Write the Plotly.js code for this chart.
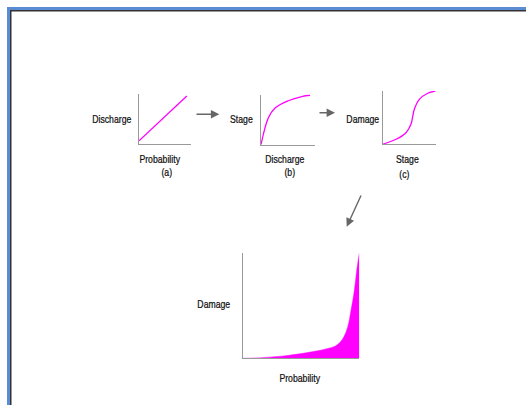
<!DOCTYPE html>
<html>
<head>
<meta charset="utf-8">
<script src="https://cdn.plot.ly/plotly-3.0.1.min.js"></script>
<style>html,body{margin:0;padding:0;background:#fff;}#chart{width:526px;height:405px;}</style>
</head>
<body>
<div id="chart"></div>
<script>
// ---- data (normalised 0..1 within each small panel) ----
var panelA_x = [0, 0.92];
var panelA_y = [0.07, 0.96];

var panelB_x = [0, 0.135, 0.26, 0.505, 0.754, 0.907];
var panelB_y = [0, 0.53, 0.73, 0.875, 0.96, 0.985];

var panelC_x = [0, 0.25, 0.437, 0.53, 0.593, 0.687, 0.844, 0.987];
var panelC_y = [0, 0.094, 0.218, 0.375, 0.657, 0.844, 0.957, 1.0];

var mainX = [0, 0.114, 0.371, 0.569, 0.714, 0.80, 0.857, 0.90, 0.928, 0.957, 0.977, 1.0];
var mainY = [0, 0.003, 0.025, 0.057, 0.089, 0.12, 0.184, 0.295, 0.45, 0.64, 0.83, 1.0];

var labelsA = ["Discharge", "Probability", "(a)"];
var labelsB = ["Stage", "Discharge", "(b)"];
var labelsC = ["Damage", "Stage", "(c)"];
var labelsMain = ["Damage", "Probability"];

// ---- layout helpers (pixel -> paper) ----
var W = 526, H = 405;
function px(x){ return x / W; }
function py(y){ return 1 - y / H; }

var magenta = '#ff00ff';
var axisGray = '#999999';
var FONT = {family: '"Liberation Sans", Arial, sans-serif', size: 11, color: '#111'};

var traces = [
  {x: panelA_x, y: panelA_y, xaxis: 'x', yaxis: 'y', mode: 'lines',
   line: {color: magenta, width: 1.3}},
  {x: panelB_x, y: panelB_y, xaxis: 'x2', yaxis: 'y2', mode: 'lines',
   line: {color: magenta, width: 1.3, shape: 'spline'}},
  {x: panelC_x, y: panelC_y, xaxis: 'x3', yaxis: 'y3', mode: 'lines',
   line: {color: magenta, width: 1.3, shape: 'spline'}},
  {x: mainX, y: mainY, xaxis: 'x4', yaxis: 'y4', mode: 'lines', fill: 'tozeroy',
   fillcolor: magenta, line: {color: magenta, width: 0.5, shape: 'spline'}}
];

function ax(domain, anchor){
  return {domain: domain, anchor: anchor, range: [0, 1], showline: true, linecolor: axisGray,
          linewidth: 1, showgrid: false, zeroline: false, showticklabels: false, ticks: '',
          fixedrange: true};
}

var layout = {
  width: W, height: H,
  margin: {l: 0, r: 0, t: 0, b: 0},
  paper_bgcolor: '#fff', plot_bgcolor: 'rgba(0,0,0,0)',
  showlegend: false,
  hovermode: false,
  xaxis:  ax([px(139), px(191)], 'y'),
  yaxis:  ax([py(144.3), py(94)], 'x'),
  xaxis2: ax([px(261), px(315)], 'y2'),
  yaxis2: ax([py(144.7), py(94.5)], 'x2'),
  xaxis3: ax([px(382.7), px(436)], 'y3'),
  yaxis3: ax([py(144.3), py(91)], 'x3'),
  xaxis4: ax([px(242.7), px(359.3)], 'y4'),
  yaxis4: ax([py(358.3), py(253.3)], 'x4'),
  shapes: [
    {type: 'rect', xref: 'paper', yref: 'paper', x0: px(7), x1: px(10), y0: py(405), y1: py(7),
     fillcolor: '#5b8cd3', line: {width: 0}, layer: 'above'},
    {type: 'rect', xref: 'paper', yref: 'paper', x0: px(7), x1: px(526), y0: py(10), y1: py(7),
     fillcolor: '#5b8cd3', line: {width: 0}, layer: 'above'},
    {type: 'rect', xref: 'paper', yref: 'paper', x0: px(10), x1: px(11.5), y0: py(405), y1: py(10),
     fillcolor: '#333', line: {width: 0}, layer: 'above'},
    {type: 'rect', xref: 'paper', yref: 'paper', x0: px(10), x1: px(526), y0: py(11.5), y1: py(10),
     fillcolor: '#333', line: {width: 0}, layer: 'above'}
  ],
  annotations: []
};

function label(t, x, y){
  layout.annotations.push({text: t, xref: 'paper', yref: 'paper', x: px(x), y: py(y),
    xanchor: 'center', yanchor: 'middle', showarrow: false, font: FONT});
}
label(labelsA[0], 111.7, 119.3); label(labelsA[1], 160, 159); label(labelsA[2], 166, 171.7);
label(labelsB[0], 241.7, 119);   label(labelsB[1], 285, 159); label(labelsB[2], 289, 172);
label(labelsC[0], 362.7, 119);   label(labelsC[1], 407.7, 159); label(labelsC[2], 404, 174);
label(labelsMain[0], 214.3, 304); label(labelsMain[1], 300, 378.3);

function arrow(x0, y0, x1, y1){
  layout.annotations.push({text: '', xref: 'paper', yref: 'paper', x: px(x1), y: py(y1),
    ax: x0 - x1, ay: y0 - y1, axref: 'pixel', ayref: 'pixel', showarrow: true,
    arrowhead: 2, arrowsize: 1.2, arrowwidth: 1.4, arrowcolor: '#666', standoff: 0});
}
arrow(195, 114.3, 219.3, 114.3);
arrow(318, 112.7, 335, 112.7);
arrow(361.7, 194, 346.7, 226.7);

Plotly.newPlot('chart', traces, layout, {staticPlot: true, displayModeBar: false}).then(function(gd){
  // condense the label text horizontally to mimic the narrow typeface of the original
  var texts = gd.querySelectorAll('.annotation-text');
  texts.forEach(function(t){
    if (!t.textContent) return;
    var bb = t.getBBox();
    var cx = bb.x + bb.width / 2;
    var prev = t.getAttribute('transform') || '';
    t.setAttribute('transform', prev + ' translate(' + cx + ',0) scale(0.79,1) translate(' + (-cx) + ',0)');
    t.style.stroke = '#111';
    t.style.strokeWidth = '0.25px';
  });
});
</script>
</body>
</html>
